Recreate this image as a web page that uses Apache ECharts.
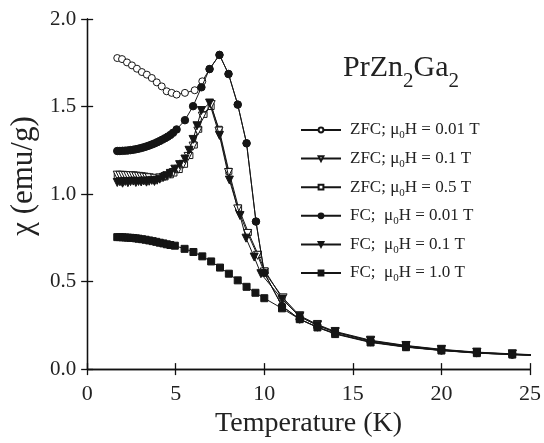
<!DOCTYPE html>
<html><head><meta charset="utf-8">
<script src="https://cdn.jsdelivr.net/npm/echarts@6/dist/echarts.min.js"></script>
<style>html,body{margin:0;padding:0;background:#fff}#c{width:544px;height:443px}</style>
</head><body><div id="c"></div>
<script>
// ---- data ----
const seriesNames = ['ZFC; μ0H = 0.01 T','ZFC; μ0H = 0.1 T','ZFC; μ0H = 0.5 T','FC;  μ0H = 0.01 T','FC;  μ0H = 0.1 T','FC;  μ0H = 1.0 T'];
const xTicks = [0,5,10,15,20,25];
const yTicks = [0,0.5,1,1.5,2];

const tZfc001 = [1.7,1.97,2.25,2.53,2.81,3.09,3.37,3.65,3.93,4.21,4.49,4.77,5.05,5.52,6.07,6.5,6.91,7.47,7.98,8.5,9.0,9.53,10.0,11.0,12.0,13.0,14.0,16.0,18.0,20.0,22.0,24.0,26.0];
const cZfc001 = [1.777,1.771,1.752,1.735,1.716,1.697,1.682,1.663,1.638,1.615,1.587,1.578,1.568,1.578,1.593,1.644,1.714,1.795,1.686,1.511,1.29,0.843,0.55,0.36,0.285,0.24,0.203,0.155,0.127,0.107,0.092,0.083,0.075];

const tZfc01 = [1.7,1.85,2.0,2.15,2.3,2.45,2.6,2.75,2.9,3.05,3.2,3.35,3.5,3.8,4.1,4.4,4.7,4.86,5.15,5.42,5.7,5.98,6.25,6.5,7.0,7.44,7.98,8.5,9.06,9.62,10.0,11.06,12.0,13.0,14.0,16.0,18.0,20.0,22.0,24.0,26.0];
const cZfc01 = [1.108,1.107,1.107,1.106,1.105,1.105,1.104,1.102,1.101,1.099,1.097,1.095,1.093,1.09,1.092,1.1,1.114,1.123,1.142,1.17,1.215,1.274,1.36,1.445,1.511,1.36,1.123,0.915,0.775,0.65,0.555,0.407,0.305,0.255,0.215,0.165,0.135,0.113,0.097,0.087,0.079];

const tZfc05 = [1.7,1.9,2.1,2.3,2.5,2.7,2.9,3.1,3.3,3.5,3.8,4.1,4.4,4.7,4.9,5.2,5.5,5.8,6.05,6.3,6.6,7.0,7.45,8.0,8.55,9.1,9.65,10.05,11.0,12.0,13.0,14.0,16.0,18.0,20.0,22.0,24.0,26.0];
const cZfc05 = [1.104,1.103,1.103,1.102,1.101,1.100,1.099,1.097,1.095,1.093,1.09,1.091,1.098,1.11,1.12,1.14,1.17,1.22,1.28,1.37,1.455,1.50,1.37,1.13,0.92,0.78,0.655,0.56,0.405,0.3,0.25,0.21,0.16,0.131,0.11,0.095,0.085,0.077];

const tFc001 = [1.7,1.85,2.0,2.15,2.3,2.45,2.6,2.75,2.9,3.05,3.2,3.35,3.5,3.65,3.8,3.95,4.1,4.25,4.4,4.55,4.7,4.85,5.05,5.52,5.98,6.45,6.91,7.47,7.98,8.5,9.0,9.53,10.0,11.0,12.0,13.0,14.0,16.0,18.0,20.0,22.0,24.0,26.0];
const cFc001 = [1.246,1.246,1.247,1.248,1.249,1.251,1.253,1.256,1.259,1.263,1.267,1.272,1.277,1.283,1.289,1.296,1.303,1.311,1.319,1.328,1.338,1.35,1.369,1.422,1.502,1.61,1.714,1.795,1.686,1.511,1.29,0.843,0.55,0.36,0.285,0.24,0.203,0.155,0.127,0.107,0.092,0.083,0.075];

const tFc01 = [1.7,1.85,2.0,2.15,2.3,2.45,2.6,2.75,2.9,3.05,3.2,3.35,3.5,3.65,3.8,3.95,4.1,4.3,4.5,4.7,4.95,5.22,5.52,5.75,5.98,6.2,6.45,6.91,7.47,8.03,8.63,8.97,9.43,9.81,11.0,12.0,13.0,14.0,16.0,18.0,20.0,22.0,24.0,26.0];
const cFc01 = [1.066,1.070,1.062,1.072,1.065,1.071,1.074,1.066,1.072,1.069,1.075,1.068,1.073,1.078,1.072,1.079,1.085,1.095,1.105,1.118,1.142,1.168,1.2,1.25,1.312,1.39,1.477,1.52,1.335,1.08,0.877,0.748,0.64,0.545,0.40,0.30,0.25,0.212,0.162,0.133,0.111,0.095,0.086,0.078];

const tFc10 = [1.7,1.85,2.0,2.15,2.3,2.45,2.6,2.75,2.9,3.1,3.3,3.5,3.7,3.9,4.1,4.3,4.5,4.7,4.95,5.5,6.0,6.5,7.0,7.5,8.0,8.5,9.0,9.5,10.0,11.0,12.0,13.0,14.0,16.0,18.0,20.0,22.0,24.0,26.0];
const cFc10 = [0.754,0.754,0.753,0.752,0.751,0.750,0.749,0.747,0.745,0.742,0.739,0.735,0.731,0.727,0.722,0.718,0.713,0.709,0.705,0.687,0.669,0.644,0.615,0.58,0.545,0.507,0.47,0.436,0.405,0.347,0.285,0.238,0.2,0.152,0.125,0.106,0.091,0.083,0.075];

// ---- build ----
const zip = (t, c) => t.map((v, i) => [v, c[i]]);
const FONT = 'Liberation Serif';
const INK = '#151515';

function mk(name, t, c, symbol, size, filled, rotate, z) {
  return {
    name: name, type: 'line', data: zip(t, c), z: z,
    symbol: symbol, symbolSize: size, symbolRotate: rotate || 0,
    showAllSymbol: true, clip: true,
    lineStyle: { color: INK, width: 1 },
    itemStyle: { color: filled ? INK : '#fff', borderColor: INK, borderWidth: 1 },
    emphasis: { disabled: true }, animation: false
  };
}

const chart = echarts.init(document.getElementById('c'));
const axisCommon = {
  axisLine: { show: true, lineStyle: { color: '#111', width: 1.3 } },
  axisTick: { show: true, inside: true, length: 6, lineStyle: { color: '#111', width: 1.3 } },
  splitLine: { show: false }
};
chart.setOption({
  backgroundColor: '#fff',
  animation: false,
  title: {
    text: '{a|PrZn}{s|2}{a|Ga}{s|2}',
    left: 343, top: 44, padding: 0,
    textStyle: {
      fontWeight: 'normal',
      rich: {
        a: { fontFamily: FONT, fontSize: 30, fontWeight: 'normal', color: '#222', lineHeight: 48 },
        s: { fontFamily: FONT, fontSize: 21, fontWeight: 'normal', color: '#222', lineHeight: 22, verticalAlign: 'bottom' }
      }
    }
  },
  legend: {
    data: seriesNames,
    orient: 'vertical', left: 300, top: 119, padding: 0,
    itemWidth: 40, itemHeight: 6, itemGap: 6.6,
    selectedMode: false,
    formatter: name => name.replace('μ0H', 'μ{s|0}H'),
    textStyle: {
      fontFamily: FONT, fontSize: 17, color: '#222', lineHeight: 22, padding: [0, 0, 0, 4],
      rich: { s: { fontFamily: FONT, fontSize: 11, color: '#222', lineHeight: 11, verticalAlign: 'bottom' } }
    }
  },
  grid: { left: 87, right: 12, top: 19, bottom: 72, containLabel: false },
  xAxis: [
    Object.assign({}, axisCommon, {
      type: 'value', min: xTicks[0], max: xTicks[xTicks.length - 1], interval: 5,
      name: 'Temperature (K)', nameLocation: 'middle', nameGap: 40,
      nameTextStyle: { fontFamily: FONT, fontSize: 28, color: '#222' },
      axisLabel: { fontFamily: FONT, fontSize: 22, color: '#222', margin: 14,
        formatter: v => String(v) }
    }),
    Object.assign({}, axisCommon, {
      type: 'value', position: 'top', min: xTicks[0], max: xTicks[xTicks.length - 1], interval: 5,
      axisLabel: { show: false }
    })
  ],
  yAxis: [
    Object.assign({}, axisCommon, {
      type: 'value', min: yTicks[0], max: yTicks[yTicks.length - 1], interval: 0.5,
      name: 'χ (emu/g)', nameLocation: 'middle', nameGap: 36, nameRotate: 90,
      nameTextStyle: { fontFamily: FONT, fontSize: 31, color: '#222', padding: [0, 0, 0, 36] },
      axisLabel: { fontFamily: FONT, fontSize: 21, color: '#222', margin: 11,
        formatter: v => v.toFixed(1) }
    }),
    Object.assign({}, axisCommon, {
      type: 'value', position: 'right', min: yTicks[0], max: yTicks[yTicks.length - 1], interval: 0.5,
      axisLabel: { show: false }
    })
  ],
  series: [
    mk(seriesNames[0], tZfc001, cZfc001, 'circle', 7, false, 0, 3),
    mk(seriesNames[1], tZfc01, cZfc01, 'triangle', 8, false, 180, 3),
    mk(seriesNames[2], tZfc05, cZfc05, 'rect', 6, false, 0, 2),
    mk(seriesNames[3], tFc001, cFc001, 'circle', 7.5, true, 0, 4),
    mk(seriesNames[4], tFc01, cFc01, 'triangle', 8, true, 180, 4),
    mk(seriesNames[5], tFc10, cFc10, 'rect', 7, true, 0, 4)
  ]
});
</script>
</body></html>
